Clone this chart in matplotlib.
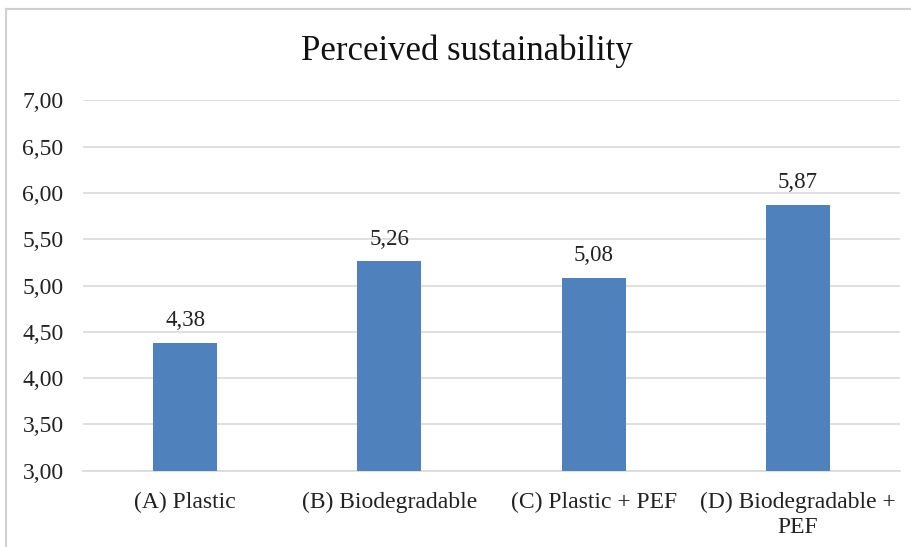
import matplotlib
matplotlib.use("Agg")
import matplotlib.pyplot as plt
from matplotlib.lines import Line2D

categories = ["(A) Plastic", "(B) Biodegradable", "(C) Plastic + PEF", "(D) Biodegradable +\nPEF"]
values = [4.38, 5.26, 5.08, 5.87]
y_ticks = [3.0, 3.5, 4.0, 4.5, 5.0, 5.5, 6.0, 6.5, 7.0]
title = "Perceived sustainability"

plt.rcParams["font.family"] = ["Liberation Serif", "DejaVu Serif"]
text_color = "#222222"
bar_color = "#4F81BD"
grid_color = "#D9D9D9"

fig = plt.figure(figsize=(9.12, 5.47), dpi=100)
ax = fig.add_axes([0.091, 0.1395, 0.896, 0.677])

x = list(range(len(categories)))
ax.bar(x, values, width=0.313, color=bar_color, zorder=3)
ax.set_xlim(-0.5, len(categories) - 0.5)
ax.set_ylim(3.0, 7.0)
ax.set_yticks(y_ticks)
ax.set_yticklabels([f"{t:.2f}".replace(".", ",") for t in y_ticks])
ax.set_xticks(x)
ax.set_xticklabels(categories, linespacing=1.25)

for xi, v in zip(x, values):
    ax.annotate(f"{v:.2f}".replace(".", ","), (xi, v), xytext=(0, 16),
                textcoords="offset points", ha="center", va="center",
                fontsize=16.5, color=text_color)

ax.grid(axis="y", color=grid_color, linewidth=1.2, zorder=0)
for s in ("top", "right", "left"):
    ax.spines[s].set_visible(False)
ax.spines["bottom"].set_color(grid_color)
ax.spines["bottom"].set_linewidth(1.2)
ax.tick_params(axis="both", length=0, labelsize=17, colors=text_color)
ax.tick_params(axis="y", pad=14)
ax.tick_params(axis="x", pad=15.5)

fig.text(0.512, 0.906, title, ha="center", va="center", fontsize=25, color="#111111")

# chart frame edges (top and left)
fig.add_artist(Line2D([0.007, 1.0], [0.984, 0.984], transform=fig.transFigure,
                      color="#D0D0D0", linewidth=1.5))
fig.add_artist(Line2D([0.007, 0.007], [0.0, 0.984], transform=fig.transFigure,
                      color="#D0D0D0", linewidth=1.5))

fig.savefig("out.png", dpi=100)
